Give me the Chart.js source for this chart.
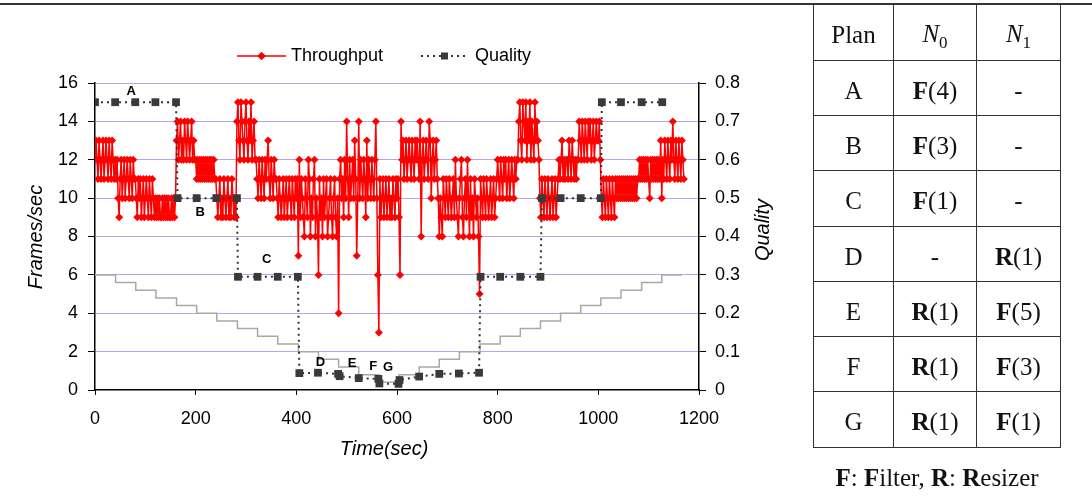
<!DOCTYPE html>
<html>
<head>
<meta charset="utf-8">
<script src="https://cdn.jsdelivr.net/npm/chart.js@4.4.0/dist/chart.umd.min.js"></script>
<style>
  html, body { margin: 0; padding: 0; background: #fff; }
  #wrap { position: relative; width: 1092px; height: 499px; overflow: hidden; }
  #chart { position: absolute; left: 0; top: 0; }
  .rule { position: absolute; left: 0; top: 3px; width: 1092px; height: 2px; background: #333; }
  table.plans {
    position: absolute; left: 813px; top: 5px;
    border-collapse: collapse; table-layout: fixed;
    font-family: "Liberation Serif", "Times New Roman", serif; font-size: 25px; color: #111;
  }
  table.plans td { border: 1px solid #333; text-align: center; padding: 5px 0 0 0; line-height: 25px; }
  table.plans tr { height: 55.25px; }
  table.plans tr:first-child td { border-top: none; }
  .sub { font-size: 17px; position: relative; top: 6px; }
  .note {
    position: absolute; left: 813px; width: 248px; top: 465px; text-align: center;
    font-family: "Liberation Serif", "Times New Roman", serif; font-size: 25px; line-height: 26px; color: #111;
  }
</style>
</head>
<body>
<div id="wrap">
  <canvas id="chart" width="1092" height="499"></canvas>
  <div class="rule"></div>
  <table class="plans">
    <colgroup><col style="width:80px"><col style="width:83px"><col style="width:84px"></colgroup>
    <tr><td>Plan</td><td><i>N</i><span class="sub">0</span></td><td><i>N</i><span class="sub">1</span></td></tr>
    <tr><td>A</td><td><b>F</b>(4)</td><td>-</td></tr>
    <tr><td>B</td><td><b>F</b>(3)</td><td>-</td></tr>
    <tr><td>C</td><td><b>F</b>(1)</td><td>-</td></tr>
    <tr><td>D</td><td>-</td><td><b>R</b>(1)</td></tr>
    <tr><td>E</td><td><b>R</b>(1)</td><td><b>F</b>(5)</td></tr>
    <tr><td>F</td><td><b>R</b>(1)</td><td><b>F</b>(3)</td></tr>
    <tr><td>G</td><td><b>R</b>(1)</td><td><b>F</b>(1)</td></tr>
  </table>
  <div class="note"><b>F</b>: <b>F</b>ilter, <b>R</b>: <b>R</b>esizer</div>
</div>
<script>
// throughput, one reading every 2 s (one row = 40 s)
const throughputStep = 2
const throughput = [
  12, 13, 12, 11, 13, 12, 11, 12, 13, 11, 12, 13, 12, 11, 13, 12, 11, 13, 12, 11,
  12, 11, 12, 10, 9, 11, 12, 10, 11, 12, 10, 11, 12, 11, 10, 12, 11, 10, 12, 11,
  11, 10, 9, 11, 10, 11, 9, 10, 11, 9, 10, 11, 10, 9, 11, 10, 9, 11, 10, 9,
  10, 9, 10, 9, 10, 9, 9, 10, 9, 10, 9, 10, 9, 10, 9, 9, 10, 9, 10, 9,
  10, 13, 14, 12, 13, 14, 12, 13, 12, 14, 13, 12, 14, 13, 12, 13, 14, 12, 13, 12,
  12, 11, 12, 11, 12, 11, 12, 11, 12, 11, 12, 11, 12, 11, 12, 11, 12, 11, 12, 11,
  11, 10, 9, 10, 11, 9, 10, 9, 11, 10, 9, 10, 11, 9, 10, 9, 11, 10, 9, 10,
  9, 14, 15, 13, 12, 15, 14, 13, 12, 14, 15, 13, 12, 14, 13, 15, 12, 13, 14, 12,
  12, 11, 10, 12, 11, 10, 12, 11, 10, 12, 11, 12, 13, 11, 10, 12, 11, 10, 12, 11,
  11, 10, 9, 11, 10, 9, 10, 11, 9, 10, 11, 9, 10, 11, 10, 9, 11, 10, 9, 11,
  10, 11, 7, 12, 9, 11, 10, 9, 8, 11, 10, 9, 12, 11, 8, 10, 9, 11, 12, 8,
  10, 9, 6, 11, 9, 10, 8, 11, 9, 10, 11, 8, 9, 10, 11, 9, 8, 10, 11, 9,
  8, 10, 4, 11, 12, 10, 11, 9, 12, 10, 14, 11, 9, 12, 10, 11, 12, 10, 13, 11,
  7, 10, 14, 10, 12, 11, 10, 12, 11, 9, 13, 10, 12, 11, 10, 12, 11, 10, 12, 14,
  10, 6, 3, 11, 9, 10, 11, 9, 10, 11, 9, 10, 11, 9, 10, 9, 11, 10, 9, 11,
  10, 11, 9, 6, 14, 12, 13, 11, 12, 13, 11, 12, 13, 12, 11, 13, 12, 11, 13, 12,
  13, 12, 11, 14, 8, 12, 13, 11, 12, 13, 12, 11, 14, 13, 10, 12, 13, 11, 12, 13,
  11, 10, 8, 10, 9, 8, 11, 10, 9, 11, 10, 9, 11, 10, 9, 10, 11, 9, 12, 10,
  9, 8, 10, 11, 12, 9, 8, 10, 11, 9, 12, 10, 8, 11, 9, 10, 8, 11, 10, 9,
  10, 8, 5, 11, 10, 9, 11, 10, 9, 11, 10, 9, 10, 11, 9, 10, 11, 9, 10, 11,
  12, 11, 10, 12, 11, 10, 12, 11, 12, 10, 11, 12, 10, 11, 12, 11, 10, 12, 11, 12,
  12, 14, 15, 13, 12, 15, 14, 13, 15, 12, 14, 13, 15, 12, 14, 13, 12, 15, 13, 14,
  13, 12, 10, 9, 11, 10, 9, 11, 10, 9, 11, 10, 9, 10, 11, 9, 10, 11, 9, 10,
  11, 12, 11, 12, 13, 11, 12, 11, 12, 12, 11, 13, 12, 11, 13, 12, 11, 12, 11, 12,
  12, 14, 13, 12, 14, 13, 12, 14, 13, 12, 14, 13, 14, 12, 13, 14, 12, 13, 14, 13,
  13, 14, 12, 10, 9, 11, 10, 9, 11, 10, 9, 11, 10, 9, 11, 10, 9, 11, 10, 11,
  10, 11, 10, 11, 10, 11, 10, 11, 10, 11, 10, 11, 10, 11, 10, 11, 10, 11, 10, 11,
  11, 12, 11, 12, 11, 12, 11, 12, 11, 12, 11, 10, 12, 11, 12, 11, 12, 11, 12, 11,
  12, 11, 13, 10, 12, 11, 13, 12, 11, 13, 12, 11, 13, 12, 14, 12, 11, 13, 12, 11,
  13, 12, 11, 13, 12, 11
]

const qualityTimes = [
  0, 40, 80, 120, 161,
  164, 202, 241, 282,
  284, 323, 363, 403,
  406, 443, 483,
  486, 524, 563,
  565, 603,
  605, 644, 684, 723, 763,
  766, 805, 845, 885,
  888, 925, 965, 1005,
  1007, 1045, 1086, 1127
]
const qualityValues = [
  0.75, 0.75, 0.75, 0.75, 0.75,
  0.5, 0.5, 0.5, 0.5,
  0.295, 0.295, 0.295, 0.295,
  0.044, 0.045, 0.042,
  0.036, 0.031, 0.029,
  0.017, 0.016,
  0.026, 0.035, 0.042, 0.043, 0.045,
  0.295, 0.295, 0.295, 0.295,
  0.5, 0.5, 0.5, 0.5,
  0.75, 0.75, 0.75, 0.75
]

// grey staircase (left axis units)
const refTimes = [0, 41, 81, 121, 162, 202, 242, 283, 323, 363, 404, 444, 484, 524, 564,
  604, 644, 684, 724, 765, 805, 845, 885, 925, 965, 1005, 1045, 1086, 1126, 1166]
const refLevels = [6, 5.6, 5.2, 4.8, 4.4, 4.0, 3.6, 3.2, 2.8, 2.4, 2.0, 1.6, 1.2, 0.8, 0.4,
  0.8, 1.2, 1.6, 2.0, 2.4, 2.8, 3.2, 3.6, 4.0, 4.4, 4.8, 5.2, 5.6, 6.0, 6.0]

const planLabels = ["A", "B", "C", "D", "E", "F", "G"]
const planLabelTimes = [72, 209, 341, 448, 511, 553, 582]
const planLabelQuality = [0.777, 0.464, 0.339, 0.071, 0.07, 0.061, 0.059]

const SANS = '"Liberation Sans", Arial, Helvetica, sans-serif'
const RED = "#ff0000"
const DARK = "#333333"

const extras = {
  id: "extras",
  afterDatasetsDraw(chart) {
    const { ctx, scales } = chart
    const x = scales.x, y2 = scales.y2
    ctx.save()
    // plan letters
    ctx.fillStyle = "#000"
    ctx.font = "bold 13px " + SANS
    ctx.textAlign = "center"
    ctx.textBaseline = "middle"
    planLabels.forEach((l, i) => {
      ctx.fillText(l, x.getPixelForValue(planLabelTimes[i]), y2.getPixelForValue(planLabelQuality[i]))
    })

    // legend
    const ly = 56
    ctx.lineWidth = 1.5
    ctx.strokeStyle = RED
    ctx.beginPath(); ctx.moveTo(237, ly); ctx.lineTo(286, ly); ctx.stroke()
    Chart.helpers.drawPoint(ctx, { pointStyle: "rectRot", radius: 4, rotation: 0, borderWidth: 0 }, 261.5, ly)
    ctx.fillStyle = RED; ctx.fill()
    ctx.strokeStyle = DARK
    ctx.lineWidth = 2
    ctx.setLineDash([2, 4])
    ctx.beginPath(); ctx.moveTo(421, ly); ctx.lineTo(469, ly); ctx.stroke()
    ctx.setLineDash([])
    ctx.fillStyle = "#3a3a3a"
    ctx.fillRect(441, ly - 3.5, 7, 7)
    ctx.fillStyle = "#000"
    ctx.font = "18px " + SANS
    ctx.textAlign = "left"
    ctx.fillText("Throughput", 291, ly)
    ctx.fillText("Quality", 475, ly)

    // axis titles
    ctx.font = "italic 20px " + SANS
    ctx.textAlign = "center"
    ctx.fillText("Time(sec)", 384, 449)
    ctx.save(); ctx.translate(36, 237); ctx.rotate(-Math.PI / 2); ctx.fillText("Frames/sec", 0, 0); ctx.restore()
    ctx.save(); ctx.translate(763, 230); ctx.rotate(-Math.PI / 2); ctx.fillText("Quality", 0, 0); ctx.restore()
    ctx.restore()
  }
}

const tickFont = { family: SANS, size: 18 }

new Chart(document.getElementById("chart").getContext("2d"), {
  type: "line",
  data: {
    datasets: [
      {
        label: "Quality",
        yAxisID: "y2",
        data: qualityTimes.map((t, i) => ({ x: t, y: qualityValues[i] })),
        borderColor: DARK,
        borderWidth: 2,
        borderDash: [2, 4],
        pointStyle: "rect",
        pointRadius: 5.5,
        pointBackgroundColor: "#3a3a3a",
        pointBorderColor: "#3a3a3a",
        pointBorderWidth: 0,
        tension: 0,
        order: 0
      },
      {
        label: "Throughput",
        yAxisID: "y",
        data: throughput.map((v, i) => ({ x: i * throughputStep, y: v })),
        borderColor: RED,
        borderWidth: 1.5,
        pointStyle: "rectRot",
        pointRadius: 4,
        pointBackgroundColor: RED,
        pointBorderColor: RED,
        pointBorderWidth: 0,
        tension: 0,
        order: 1
      },
      {
        label: "Reference",
        yAxisID: "y",
        data: refTimes.map((t, i) => ({ x: t, y: refLevels[i] })),
        borderColor: "#a8a8a8",
        borderWidth: 1.5,
        stepped: "before",
        pointRadius: 0,
        order: 2
      }
    ]
  },
  options: {
    responsive: false,
    animation: false,
    layout: { padding: { top: 83, left: 0, right: 0, bottom: 0 } },
    plugins: { legend: { display: false }, tooltip: { enabled: false } },
    scales: {
      x: {
        type: "linear",
        min: 0, max: 1200,
        ticks: { stepSize: 200, font: tickFont, color: "#000", padding: 13, maxRotation: 0, callback: v => String(v) },
        grid: { drawOnChartArea: false, tickLength: 5, tickColor: "#000" },
        border: { color: "#000", width: 1.5 },
        afterFit: s => { s.height = 109 }
      },
      y: {
        position: "left",
        min: 0, max: 16,
        ticks: { stepSize: 2, font: tickFont, color: "#000", padding: 10 },
        grid: {
          color: c => c.tick && c.tick.value === 0 ? "rgba(0,0,0,0)" : "#b9a2f4",
          lineWidth: 1, tickLength: 7, tickColor: "#000"
        },
        border: { color: "#000", width: 1.5 },
        afterFit: s => { s.width = 95 }
      },
      y2: {
        position: "right",
        min: 0, max: 0.8,
        ticks: { stepSize: 0.1, font: tickFont, color: "#000", padding: 9 },
        grid: { drawOnChartArea: false, tickLength: 7, tickColor: "#000" },
        border: { color: "#000", width: 1.5 },
        afterFit: s => { s.width = 393 }
      }
    }
  },
  plugins: [extras]
})
</script>
</body>
</html>
